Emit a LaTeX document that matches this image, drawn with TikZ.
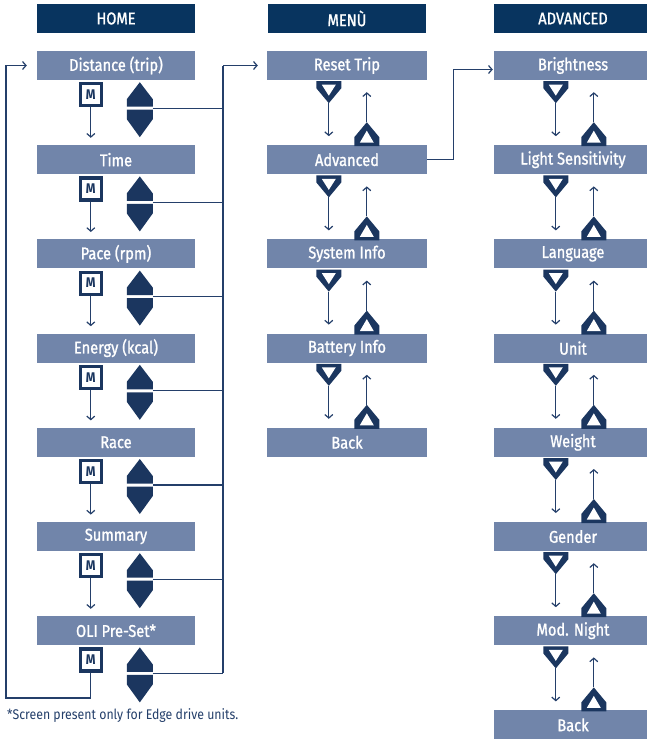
\documentclass[tikz,border=0pt]{standalone}
\usepackage{fontspec}
\setmainfont{Fira Sans}[FakeStretch=0.88]
\newfontfamily\boxfont{Fira Sans}[FakeStretch=0.86, FakeBold=1.2]
\usetikzlibrary{positioning,arrows.meta}
\definecolor{navy}{HTML}{08345F}
\definecolor{slate}{HTML}{7185AA}
\definecolor{keyblue}{HTML}{1B365F}
\definecolor{wire}{HTML}{243F6A}

\begin{document}
\begin{tikzpicture}[x=1pt, y=-1pt]
\useasboundingbox (0,0) rectangle (647,739);
%------------------------------------------------------------------------------------------------
% Styles and keys

    \tikzset{header/.style={fill=navy, text=white, minimum width=158pt, minimum height=29pt,
            inner sep=0pt, font=\boxfont\fontsize{17}{17}\selectfont},
        screen/.style={header, fill=slate},
        mkey/.style={draw=keyblue, line width=3.2pt, fill=white, text=keyblue,
            minimum width=21pt, minimum height=22pt, inner sep=0pt,
            font=\fontsize{14}{14}\selectfont\bfseries},
        link/.style={draw=wire, line width=1.2pt},
        go/.style={-{Straight Barb[length=3.5pt, width=8pt, line width=1.2pt]}},
        note/.style={text=wire, font=\fontsize{14}{14}\selectfont, inner sep=0pt},
        downkey/.pic={\fill[keyblue] (-12.5,0) -- (12.5,0) -- (12.5,7) -- (0,22) -- (-12.5,7) -- cycle;
            \fill[white] (-7,3.5) -- (7,3.5) -- (0,14.5) -- cycle;
            \coordinate (-tip) at (0,22);},
        upkey/.pic={\fill[keyblue] (-12.5,0) -- (12.5,0) -- (12.5,-9) -- (0,-24) -- (-12.5,-9) -- cycle;
            \fill[white] (-7,-3.5) -- (7,-3.5) -- (0,-15.5) -- cycle;
            \coordinate (-tip) at (0,-24);},
        updown/.pic={\fill[keyblue] (0,-26) -- (13,-9) -- (13,-1.5) -- (-13,-1.5) -- (-13,-9) -- cycle;
            \fill[keyblue] (-13,1.5) -- (13,1.5) -- (13,11) -- (0,29) -- (-13,11) -- cycle;
            \coordinate (-east) at (13,0);}
    }
    % headers
    \foreach \col/\x/\label in {home/116/HOME, menu/347/MENÙ, adv/573/ADVANCED} {
        \node[header] (\col head) at (\x, 18.5) {\label};
    }
%------------------------------------------------------------------------------------------------
% HOME screens

    \foreach \row/\label in {0/Distance (trip), 1/Time, 2/Pace (rpm), 3/Energy (kcal),
            4/Race, 5/Summary, 6/OLI Pre-Set*} {
        \node[screen] (home\row) at (116, 65.5+94.2*\row) {\label};
        \node[mkey] (m\row) at ([xshift=54pt, yshift=-14.5pt]home\row.south west) {M};
        \pic (ud\row) at ([xshift=103pt, yshift=-28pt]home\row.south west) {updown};
        \ifnum\row<6
            \draw[link, go] (m\row.south) -- ++(0,30.5);
        \fi
    }
    % common line to the menu
    \coordinate (bus) at (223, 65.5);
    \draw[link] (bus) -- (bus |- ud6-east);
    \foreach \row in {0,...,6} {
        \draw[link] (ud\row-east) -- (ud\row-east -| bus);
    }
    % back to the first screen
    \coordinate (loop) at (6, 698);
    \draw[link, go, shorten >=10pt] (m6.south) |- (loop) |- (home0.west);
%------------------------------------------------------------------------------------------------
% MENU and ADVANCED screens

    \foreach \row/\label in {0/Reset Trip, 1/Advanced, 2/System Info, 3/Battery Info, 4/Back} {
        \node[screen, minimum width=160pt] (menu\row) at (347, 65.5+94.2*\row) {\label};
    }
    \foreach \row/\label in {0/Brightness, 1/Light Sensitivity, 2/Language, 3/Unit, 4/Weight,
            5/Gender, 6/Mod. Night, 7/Back} {
        \node[screen] (adv\row) at (573, 65.5+94.2*\row) {\label};
    }
    % down and up keys between the screens
    \foreach \col/\last in {menu/3, adv/6} {
        \foreach \row in {0,...,\last} {
            \pic (dk\col\row) at ([xshift=62pt, yshift=-1pt]\col\row.south west) {downkey};
            \pic (uk\col\row) at ([xshift=100pt, yshift=-66pt]\col\row.south west) {upkey};
            \draw[link, go] (dk\col\row-tip) -- ++(0,33);
            \draw[link, go] (uk\col\row-tip) -- ++(0,-30);
        }
    }
%------------------------------------------------------------------------------------------------
\draw[link, go, shorten >=9pt] (bus) -- (menu0.west);
\draw[link, go, shorten >=1pt] (menu1.east) -- ++(26,0) |- ([yshift=-4pt]adv0.west);
\node[note, anchor=west] (footnote) at (7, 716) {*Screen present only for Edge drive units.};

\end{tikzpicture}
\end{document}
